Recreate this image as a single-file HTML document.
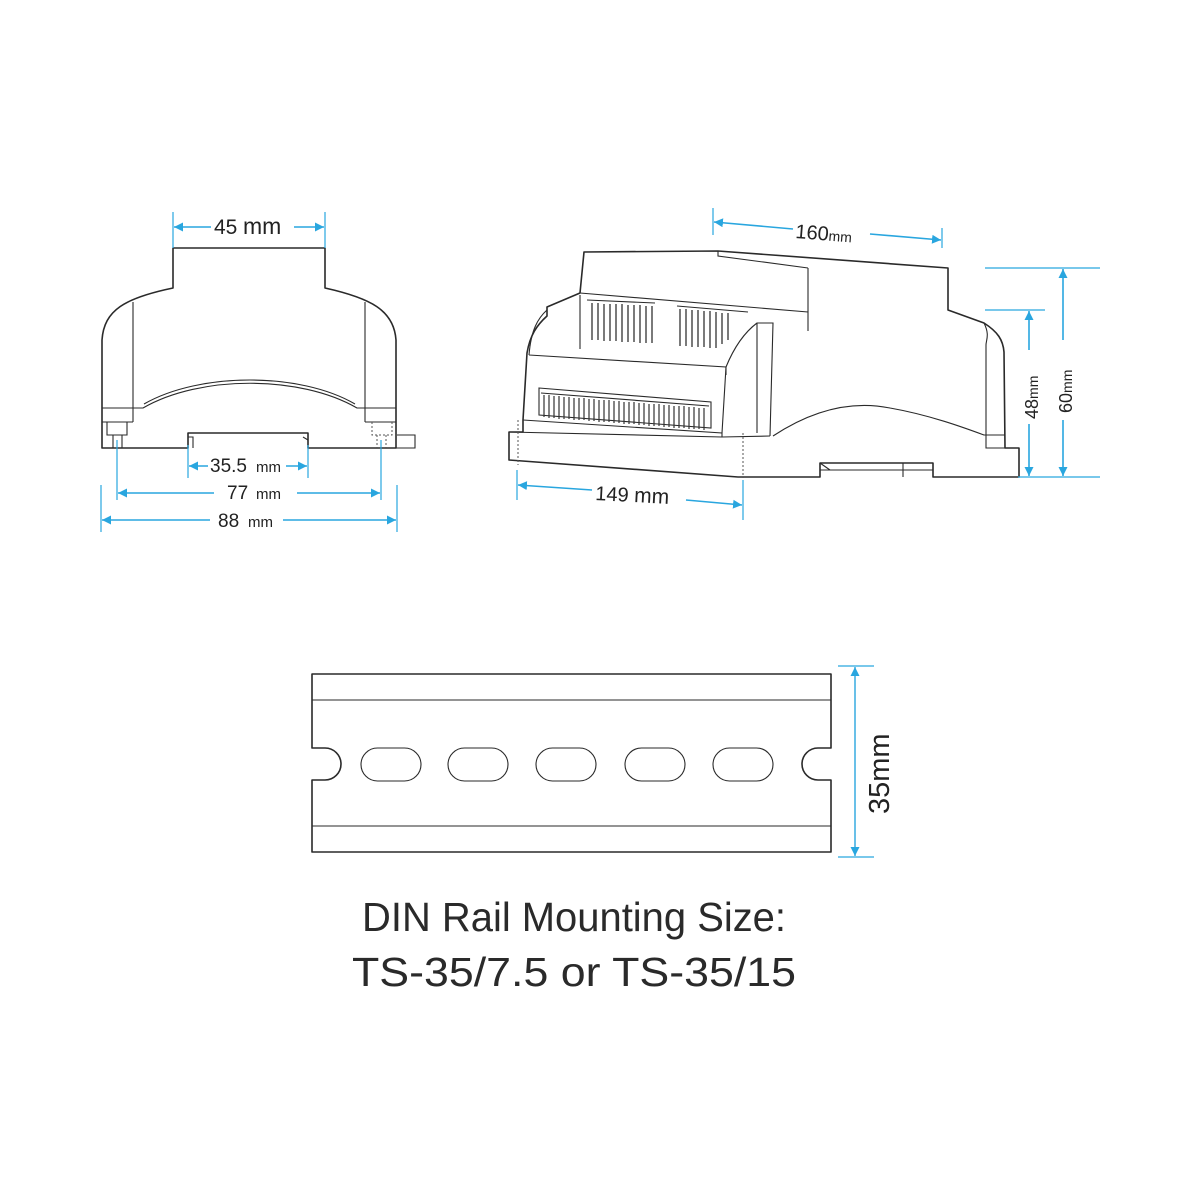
<!DOCTYPE html>
<html><head><style>
html,body{margin:0;padding:0;background:#fff;}
svg{display:block;}
.k{fill:none;stroke:#2a2a2a;stroke-width:1.6;stroke-linejoin:round;}
.t{fill:none;stroke:#2a2a2a;stroke-width:1.1;}
.b{stroke:#29a6df;stroke-width:1.6;fill:none;}
.bt{font-family:"Liberation Sans",sans-serif;fill:#222;}
</style></head><body>
<svg width="1200" height="1200" viewBox="0 0 1200 1200" xmlns="http://www.w3.org/2000/svg">
<defs>
<marker id="a" viewBox="0 0 10 10" refX="10" refY="5" markerWidth="9" markerHeight="9" orient="auto-start-reverse" markerUnits="userSpaceOnUse"><path d="M0,0L10,5L0,10z" fill="#29a6df"/></marker>
</defs>
<rect width="1200" height="1200" fill="#fff"/>

<!-- LEFT DEVICE -->
<path class="k" d="M102,448 L102,340 C104,310 125,298 173,288 L173,248 L325,248 L325,288 C370,298 394,310 396,340 L396,448 L308,448 L308,433 L188,433 L188,448 Z"/>
<path class="t" d="M133,302 L133,422 M365,302 L365,422 M102,408 L143,408 C200,375 300,375 357,408 L396,408 M102,422 L133,422 M365,422 L396,422"/>
<path class="t" d="M144,404 C200,372 300,372 355,404"/>
<path class="t" d="M107,422 L107,435 L127,435 L127,422 M113,435 L113,448 M122,435 L122,448"/>
<path class="t" d="M397,435 L415,435 L415,448 L396,448 M188,437 L193,437 L193,448 M303,437 L308,440"/>
<path d="M372,422 L372,435 L392,435 L392,422 M377,435 L377,448 M386,435 L386,448" stroke="#555" stroke-width="1" fill="none" stroke-dasharray="2,2"/>
<!-- left dims -->
<path class="b" d="M173,212 L173,248 M325,212 L325,248 M117,440 L117,500 M381,440 L381,500 M188,445 L188,478 M308,445 L308,478 M101,485 L101,532 M397,485 L397,532" style="stroke-width:1.2"/>
<line class="b" x1="211" y1="227" x2="174" y2="227" marker-end="url(#a)"/><line class="b" x1="294" y1="227" x2="324" y2="227" marker-end="url(#a)"/>
<text class="bt" x="214" y="234" font-size="21">45</text><text class="bt" x="243" y="234" font-size="23">mm</text>
<line class="b" x1="208" y1="466" x2="189" y2="466" marker-end="url(#a)"/><line class="b" x1="286" y1="466" x2="307" y2="466" marker-end="url(#a)"/>
<text class="bt" x="210" y="472" font-size="19">35.5</text><text class="bt" x="256" y="472" font-size="15">mm</text>
<line class="b" x1="214" y1="493" x2="118" y2="493" marker-end="url(#a)"/><line class="b" x1="297" y1="493" x2="380" y2="493" marker-end="url(#a)"/>
<text class="bt" x="227" y="499" font-size="19">77</text><text class="bt" x="256" y="499" font-size="15">mm</text>
<line class="b" x1="210" y1="520" x2="102" y2="520" marker-end="url(#a)"/><line class="b" x1="283" y1="520" x2="396" y2="520" marker-end="url(#a)"/>
<text class="bt" x="218" y="527" font-size="19">88</text><text class="bt" x="248" y="527" font-size="15">mm</text>

<!-- RIGHT DEVICE -->
<path class="k" d="M584,252 L718,251 L948,268 L948,310 L984,323 C998,332 1003,340 1004,352 L1005,448 L1019,448 L1019,477 L933,477 L933,463 L820,463 L820,477 L738,477 L509,460 L509,432 L523,432 L523,420 L527,353 C530,335 537,325 547,316 L547,307 L580,293 L584,252 Z"/>
<path class="t" d="M808,268 L808,331 M580,293 L808,312 M718,251 L718,256 L808,268"/>
<path class="t" d="M529,355 L726,367 L726,375 M580,295 L580,349 M547,310 C538,318 531,330 529,355"/>
<path class="t" d="M726,367 C735,345 745,332 757,323 L773,323 L770,436 M757,323 L757,433 M726,367 L722,433"/>
<path class="t" d="M523,420 L722,433 L722,437 L770,436 M509,432 L722,437"/>
<path class="t" d="M773,436 C820,405 860,402 890,408 C930,415 965,428 984,435 L1005,435 M984,323 C990,335 986,340 986,345 L986,448 L1005,448"/>
<path class="t" d="M539,388 L711,402 L711,428 L539,415 Z M541,393 L709,406"/>
<path d="M544,395 L544,417 M549,395 L549,418 M554,396 L554,418 M559,396 L559,419 M564,397 L564,419 M569,397 L569,419 M574,398 L574,420 M579,398 L579,420 M584,398 L584,420 M589,399 L589,421 M594,399 L594,421 M599,400 L599,422 M604,400 L604,422 M609,400 L609,422 M614,401 L614,423 M619,401 L619,423 M624,402 L624,424 M629,402 L629,424 M634,402 L634,424 M639,403 L639,425 M644,403 L644,425 M649,404 L649,426 M654,404 L654,426 M659,404 L659,426 M664,405 L664,427 M669,405 L669,427 M674,406 L674,428 M679,406 L679,428 M684,406 L684,428 M689,407 L689,429 M694,407 L694,429 M699,408 L699,429 M704,408 L704,430" stroke="#333" stroke-width="1.2"/>
<path d="M592,303 L592,340 M598,303 L598,340 M604,304 L604,341 M610,304 L610,341 M616,304 L616,341 M622,304 L622,342 M628,305 L628,342 M634,305 L634,342 M640,305 L640,343 M646,306 L646,343 M652,306 L652,343 M680,309 L680,346 M686,309 L686,346 M692,310 L692,347 M698,310 L698,347 M704,311 L704,347 M710,311 L710,348 M716,312 L716,348 M722,313 L722,344 M728,313 L728,340" stroke="#333" stroke-width="1.3"/>
<path class="t" d="M587,300 L655,303 M677,306 L748,312"/>
<path class="t" d="M820,463 L830,470 M903,463 L903,477 M820,470 L933,470"/>
<path d="M518,420 L518,465 M743,433 L743,478" stroke="#555" stroke-width="1" stroke-dasharray="2,2"/>
<!-- right dims -->
<path class="b" d="M713,208 L713,235 M942,228 L942,248 M517,470 L517,500 M743,480 L743,520 M985,268 L1100,268 M985,310 L1045,310 M1018,477 L1100,477" style="stroke-width:1.2"/>
<line class="b" x1="793" y1="229" x2="714" y2="222" marker-end="url(#a)"/><line class="b" x1="870" y1="234" x2="941" y2="240" marker-end="url(#a)"/>
<text class="bt" transform="translate(795,238) rotate(4.5)" font-size="20">160<tspan font-size="14">mm</tspan></text>
<line class="b" x1="592" y1="490" x2="518" y2="485" marker-end="url(#a)"/><line class="b" x1="686" y1="500" x2="742" y2="505" marker-end="url(#a)"/>
<text class="bt" transform="translate(595,500) rotate(3)" font-size="20">149 <tspan font-size="21">mm</tspan></text>
<line class="b" x1="1029" y1="350" x2="1029" y2="311" marker-end="url(#a)"/><line class="b" x1="1029" y1="424" x2="1029" y2="476" marker-end="url(#a)"/>
<line class="b" x1="1063" y1="340" x2="1063" y2="269" marker-end="url(#a)"/><line class="b" x1="1063" y1="420" x2="1063" y2="476" marker-end="url(#a)"/>
<text class="bt" transform="translate(1038,419) rotate(-90)" font-size="18">48<tspan font-size="14">mm</tspan></text>
<text class="bt" transform="translate(1072,413) rotate(-90)" font-size="18">60<tspan font-size="14">mm</tspan></text>

<!-- DIN RAIL -->
<path class="k" d="M312,674 L831,674 L831,748 L818,748 A16,16 0 0 0 818,780 L831,780 L831,852 L312,852 L312,780 L325,780 A16,16 0 0 0 325,748 L312,748 Z"/>
<path class="t" d="M312,700 L831,700 M312,826 L831,826"/>
<rect class="t" x="361" y="748" width="60" height="33" rx="16.5"/>
<rect class="t" x="448" y="748" width="60" height="33" rx="16.5"/>
<rect class="t" x="536" y="748" width="60" height="33" rx="16.5"/>
<rect class="t" x="625" y="748" width="60" height="33" rx="16.5"/>
<rect class="t" x="713" y="748" width="60" height="33" rx="16.5"/>
<path class="b" d="M838,666 L874,666 M838,857 L874,857" style="stroke-width:1.2"/>
<line class="b" x1="855" y1="760" x2="855" y2="667" marker-end="url(#a)" style="stroke-width:1.4"/>
<line class="b" x1="855" y1="760" x2="855" y2="856" marker-end="url(#a)" style="stroke-width:1.4"/>
<text class="bt" transform="translate(889,814) rotate(-90)" font-size="29">35mm</text>

<text x="574" y="931" text-anchor="middle" font-family="Liberation Sans, sans-serif" font-size="41" fill="#2a2a2a" textLength="424" lengthAdjust="spacingAndGlyphs">DIN Rail Mounting Size:</text>
<text x="574" y="986" text-anchor="middle" font-family="Liberation Sans, sans-serif" font-size="41" fill="#2a2a2a" textLength="444" lengthAdjust="spacingAndGlyphs">TS-35/7.5 or TS-35/15</text>
</svg>
</body></html>
